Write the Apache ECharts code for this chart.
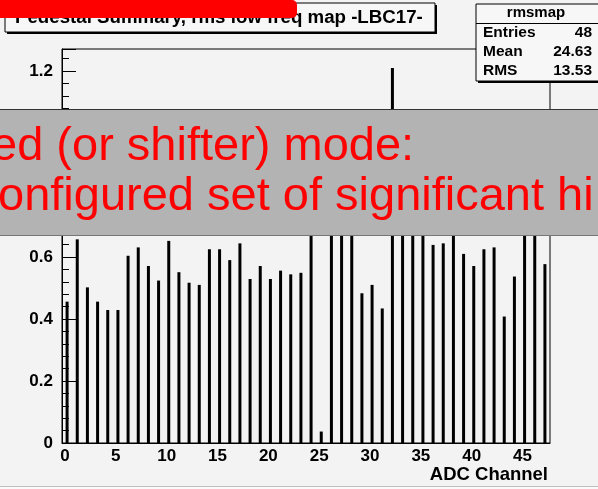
<!DOCTYPE html>
<html><head><meta charset="utf-8">
<script src="https://cdn.jsdelivr.net/npm/echarts@6/dist/echarts.min.js"></script>
<style>html,body{margin:0;padding:0;background:#f3f3f3}#c{width:598px;height:489px}</style>
</head><body><div id="c"></div>
<script>
// ---- data ----
const channels = [0,1,2,3,4,5,6,7,8,9,10,11,12,13,14,15,16,17,18,19,20,21,22,23,
                  24,25,26,27,28,29,30,31,32,33,34,35,36,37,38,39,40,41,42,43,44,45,46,47];
const rmsValues = [0.456,0.657,0.502,0.456,0.429,0.429,0.604,0.631,0.571,0.524,
                   0.652,0.551,0.517,0.510,0.625,0.625,0.590,0.644,0.529,0.571,
                   0.529,0.556,0.544,0.549,0.80,0.037,0.75,0.78,0.82,0.483,
                   0.510,0.434,1.21,0.76,0.74,0.80,0.639,0.644,0.79,0.610,
                   0.571,0.625,0.631,0.408,0.537,0.77,0.80,0.577];
const xTickLabels = ['0','5','10','15','20','25','30','35','40','45'];
const yTickLabels = ['0','0.2','0.4','0.6','0.8','1','1.2'];
const titleText = 'Pedestal Summary, rms low freq map -LBC17-';
const statsName = 'rmsmap';
const statsRows = [['Entries','48'],['Mean','24.63'],['RMS','13.53']];
const bannerLines = ['ed (or shifter) mode:', 'onfigured set of significant hi'];
const xAxisTitle = 'ADC Channel';

const FF = "'Liberation Sans', Arial, Helvetica, sans-serif";
const chart = echarts.init(document.getElementById('c'), null, {renderer:'canvas'});

const seriesData = channels.map((c,i) => [c + 0.5, rmsValues[i]]);

const graphics = [];
// title box
graphics.push({type:'rect', z:100, shape:{x:7,y:5,width:430,height:29}, style:{fill:'#000'}});
graphics.push({type:'rect', z:101, shape:{x:5,y:3,width:430,height:29}, style:{fill:'#f7f7f7', stroke:'#000', lineWidth:1}});
graphics.push({type:'text', z:102, x:15, y:18, style:{text:titleText, font:'bold 18.7px '+FF, fill:'#000', verticalAlign:'middle', align:'left'}});
graphics.push({type:'rect', z:103, shape:{x:-6,y:0,width:303,height:18,r:[0,5,5,0]}, style:{fill:'#ff0000'}});
// stats box
graphics.push({type:'rect', z:100, shape:{x:478,y:6,width:130,height:77}, style:{fill:'#000'}});
graphics.push({type:'rect', z:101, shape:{x:476,y:4,width:130,height:77}, style:{fill:'#f7f7f7', stroke:'#000', lineWidth:1}});
graphics.push({type:'line', z:102, shape:{x1:476,y1:23.5,x2:606,y2:23.5}, style:{stroke:'#000', lineWidth:1}});
graphics.push({type:'text', z:102, x:536, y:13, style:{text:statsName, font:'bold 15px '+FF, fill:'#000', align:'center', verticalAlign:'middle'}});
statsRows.forEach((r,k) => {
  const yy = 33 + k*19;
  graphics.push({type:'text', z:102, x:483, y:yy, style:{text:r[0], font:'bold 15.5px '+FF, fill:'#000', align:'left', verticalAlign:'middle'}});
  graphics.push({type:'text', z:102, x:592, y:yy, style:{text:r[1], font:'bold 15.5px '+FF, fill:'#000', align:'right', verticalAlign:'middle'}});
});
// x axis title
graphics.push({type:'text', z:102, x:548, y:475, style:{text:xAxisTitle, font:'bold 18.5px '+FF, fill:'#000', align:'right', verticalAlign:'middle'}});
// bottom edge line
graphics.push({type:'rect', z:100, shape:{x:0,y:486,width:598,height:3}, style:{fill:'#fafafa'}});
graphics.push({type:'line', z:101, shape:{x1:0,y1:486.5,x2:598,y2:486.5}, style:{stroke:'#bdbdbd', lineWidth:1}});
// banner
graphics.push({type:'rect', z:110, shape:{x:-2,y:109,width:602,height:127}, style:{fill:'#b3b3b3'}});
graphics.push({type:'line', z:111, shape:{x1:0,y1:109.5,x2:598,y2:109.5}, style:{stroke:'#333', lineWidth:1}});
graphics.push({type:'line', z:111, shape:{x1:0,y1:235.5,x2:598,y2:235.5}, style:{stroke:'#777', lineWidth:1}});
graphics.push({type:'text', z:112, x:-9, y:147, style:{text:bannerLines[0], font:'47px '+FF, fill:'#ff0000', align:'left', verticalAlign:'middle'}});
graphics.push({type:'text', z:112, x:-2, y:197, style:{text:bannerLines[1], font:'47px '+FF, fill:'#ff0000', align:'left', verticalAlign:'middle'}});

chart.setOption({
  animation:false,
  backgroundColor:'#f3f3f3',
  grid:{left:62, right:48, top:49, bottom:46, show:true, borderColor:'#000', borderWidth:1, backgroundColor:'#f3f3f3'},
  xAxis:{type:'value', min:0, max:48, interval:5,
    axisLine:{show:true, lineStyle:{color:'#000', width:1}},
    axisTick:{show:false}, splitLine:{show:false},
    axisLabel:{show:true, margin:5, padding:[0,0,0,6], color:'#000', fontFamily:FF, fontWeight:'bold', fontSize:17,
      showMaxLabel:false,
      formatter:(v)=>{ const k = Math.round(v/5); return (Math.abs(v-k*5)<1e-6 && xTickLabels[k]!==undefined) ? xTickLabels[k] : ''; }}
  },
  yAxis:{type:'value', min:0, max:394/310, interval:0.2,
    axisLine:{show:true, lineStyle:{color:'#000', width:1}},
    axisTick:{show:true, inside:true, length:14, lineStyle:{color:'#000', width:1}},
    minorTick:{show:true, splitNumber:5, length:7, lineStyle:{color:'#000', width:1}},
    splitLine:{show:false},
    axisLabel:{show:true, margin:9, color:'#000', fontFamily:FF, fontWeight:'bold', fontSize:17, showMaxLabel:false,
      formatter:(v)=>{ const k = Math.round(v/0.2); return (Math.abs(v-k*0.2)<1e-6 && yTickLabels[k]!==undefined) ? yTickLabels[k] : ''; }}
  },
  series:[{type:'bar', data:seriesData, barWidth:3, itemStyle:{color:'#000'}, silent:true}],
  graphic:graphics
});
</script></body></html>
